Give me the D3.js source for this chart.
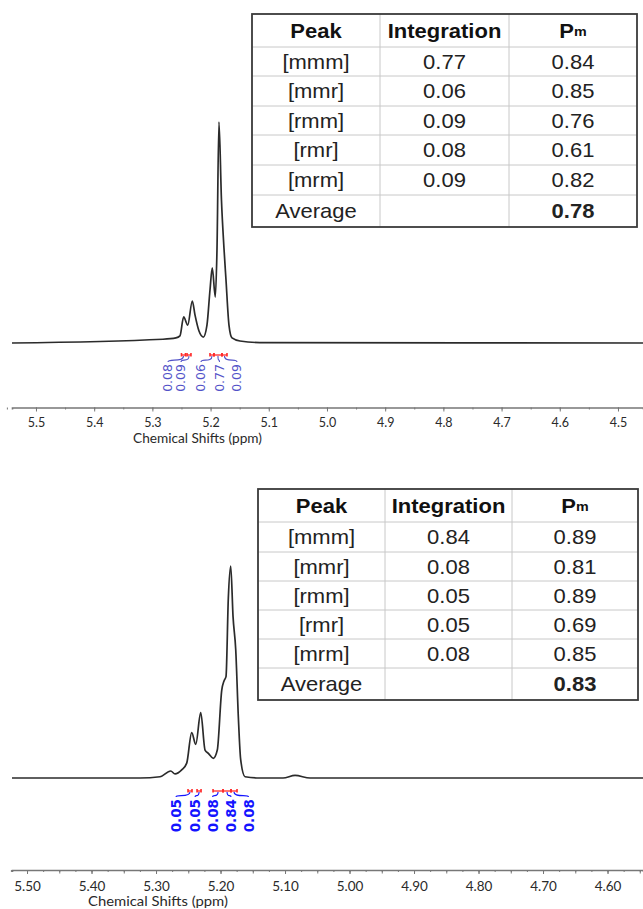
<!DOCTYPE html>
<html><head><meta charset="utf-8">
<script src="https://cdn.jsdelivr.net/npm/d3@7"></script>
<style>html,body{margin:0;padding:0;background:#fff;}svg{display:block;}</style>
</head><body>
<svg id="c" width="643" height="909"></svg>
<script>
// ---------- DATA ----------
// Top spectrum (ppm, relative intensity)
const topPpm = [5.5412, 5.2818, 5.2595, 5.2526, 5.2462, 5.2393, 5.2314, 5.2268, 5.2199, 5.2125, 5.2062, 5.2010, 5.1971, 5.1919, 5.1890, 5.1856, 5.1813, 5.1770, 5.1735, 5.1684, 5.1632, 5.1495, 5.1151, 4.4570];
const topInt = [0, 1.7, 2.3, 3.2, 11.8, 8.1, 19.0, 12.7, 5.4, 2.7, 8.1, 24.0, 34.0, 20.8, 42.0, 100, 64.7, 43.0, 28.5, 8.1, 2.3, 0.9, 0.2, 0];
// Bottom spectrum
const botPpm = [5.5233, 5.3248, 5.2938, 5.2772, 5.2705, 5.2602, 5.2524, 5.2447, 5.2384, 5.2307, 5.2240, 5.2189, 5.2112, 5.2050, 5.1981, 5.1946, 5.1915, 5.1879, 5.1842, 5.1806, 5.1764, 5.1724, 5.1687, 5.1620, 5.1388, 5.1031, 5.0845, 5.0612, 4.5450];
const botInt = [0, 0, 0.6, 3.3, 1.9, 3.8, 7.0, 21.4, 15.9, 30.8, 13.2, 11.6, 9.3, 13.2, 41.5, 45.8, 47.8, 84.9, 100, 76.1, 60.4, 28.9, 8.5, 0.6, 0, 0, 1.2, 0, 0];

// Integrals (top)
const topIntegrals = ["0.08", "0.09", "0.06", "0.77", "0.09"];
const topLabelPpm = [5.2732, 5.2509, 5.2165, 5.1847, 5.1546];
const topRegFrom = [5.2500, 5.2405, 5.2010, 5.1942, 5.1804];
const topRegTo   = [5.2431, 5.2337, 5.1942, 5.1804, 5.1718];
// Integrals (bottom)
const botIntegrals = ["0.05", "0.05", "0.08", "0.84", "0.08"];
const botLabelPpm = [5.2690, 5.2395, 5.2124, 5.1837, 5.1566];
const botRegFrom = [5.2504, 5.2364, 5.2116, 5.1961, 5.1837];
const botRegTo   = [5.2442, 5.2302, 5.1961, 5.1837, 5.1744];

// Axis ticks
const topTickLabels = [5.5, 5.4, 5.3, 5.2, 5.1, 5.0, 4.9, 4.8, 4.7, 4.6, 4.5];
const botTickLabels = [5.5, 5.4, 5.3, 5.2, 5.1, 5.0, 4.9, 4.8, 4.7, 4.6];

// Tables
const tableHeader = ["Peak", "Integration", "Pm"];
const peakNames = ["[mmm]", "[mmr]", "[rmm]", "[rmr]", "[mrm]"];
const topIntegration = ["0.77", "0.06", "0.09", "0.08", "0.09"];
const topPm = ["0.84", "0.85", "0.76", "0.61", "0.82"];
const topAverage = "0.78";
const botIntegration = ["0.84", "0.08", "0.05", "0.05", "0.08"];
const botPm = ["0.89", "0.81", "0.89", "0.69", "0.85"];
const botAverage = "0.83";

// ---------- DRAW ----------
const svg = d3.select("#c");
const axisFont = "Lato, 'Liberation Sans', sans-serif";

function panel(o) {
  const x = d3.scaleLinear().domain(o.domain).range([12, 643]);
  const y = d3.scaleLinear().domain([0, 100]).range([o.base, o.top]);
  const g = svg.append("g");

  // spectrum
  const pts = o.ppm.map((p, i) => [p, o.ints[i]]);
  g.append("path").datum(pts)
    .attr("d", d3.line().x(d => x(d[0])).y(d => y(d[1])).curve(d3.curveMonotoneX))
    .attr("fill", "none").attr("stroke", "#2b2b2b").attr("stroke-width", 1.7)
    .attr("stroke-linejoin", "round");

  // axis: small ticks
  const minor = d3.range(Math.round(o.domain[1] / o.minorStep), Math.round(o.domain[0] / o.minorStep) + 1).map(k => +(k * o.minorStep).toFixed(3));
  const ax = g.append("g").attr("transform", `translate(0,${o.axisY})`);
  ax.call(d3.axisBottom(x).tickValues(minor).tickSize(o.minorLen).tickFormat(""))
    .call(s => s.select(".domain").attr("stroke", "#777").attr("stroke-width", 1.6))
    .call(s => s.selectAll(".tick line").attr("stroke", "#777"));
  if (o.midStep) {
    const mids = d3.range(Math.ceil(o.domain[1] / o.midStep), Math.floor(o.domain[0] / o.midStep) + 1).map(k => +(k * o.midStep).toFixed(3));
    g.append("g").attr("transform", `translate(0,${o.axisY})`)
      .call(d3.axisBottom(x).tickValues(mids).tickSize(3.5).tickFormat(""))
      .call(s => s.select(".domain").remove())
      .call(s => s.selectAll(".tick line").attr("stroke", "#777"));
  }
  const maj = g.append("g").attr("transform", `translate(0,${o.axisY})`);
  maj.call(d3.axisBottom(x).tickValues(o.ticks).tickSize(o.majorLen).tickPadding(o.pad).tickFormat(d3.format(o.fmt)))
    .call(s => s.select(".domain").remove())
    .call(s => s.selectAll(".tick line").attr("stroke", "#777"))
    .call(s => s.selectAll(".tick text").attr("fill", "#2a2a2a").attr("font-family", axisFont).attr("font-size", o.tickFont));
  g.append("text").attr("x", o.titleX).attr("y", o.titleY)
    .attr("font-family", axisFont).attr("font-size", o.titleFont).attr("fill", "#2a2a2a")
    .attr("textLength", o.titleLen).attr("lengthAdjust", "spacingAndGlyphs")
    .text("Chemical Shifts (ppm)");

  // integrals
  o.labels.forEach((t, i) => {
    const xl = x(o.labelPpm[i]);
    const x0 = x(o.regFrom[i]), x1 = x(o.regTo[i]);
    const xc = (x0 + x1) / 2;
    g.append("path")
      .attr("d", `M${xl},${o.labelTop - 2} C${xl},${o.redY + 3} ${xc},${o.labelTop - 1} ${xc},${o.redY + 1}`)
      .attr("fill", "none").attr("stroke", o.labelColor).attr("stroke-width", 1.1);
    g.append("line").attr("x1", x0).attr("x2", x1).attr("y1", o.redY).attr("y2", o.redY)
      .attr("stroke", "#ff2a2a").attr("stroke-width", 1.3);
    [x0, x1].forEach(xx => g.append("line").attr("x1", xx).attr("x2", xx)
      .attr("y1", o.redY - 2).attr("y2", o.redY + 1.5).attr("stroke", "#ff2a2a").attr("stroke-width", 1.6));
    g.append("text")
      .attr("transform", `translate(${xl},${o.labelTop}) rotate(-90)`)
      .attr("text-anchor", "end").attr("dominant-baseline", "central")
      .attr("font-family", "'DejaVu Sans', sans-serif").attr("font-size", o.labelSize)
      .attr("font-weight", o.labelWeight).attr("fill", o.labelColor)
      .text(t);
  });
}

panel({
  domain: [5.5412, 4.4570], base: 343, top: 122, ppm: topPpm, ints: topInt,
  axisY: 407.5, ticks: topTickLabels, fmt: ".1f", minorStep: 0.05, minorLen: 2, majorLen: 4, pad: 7,
  tickFont: 12.5, titleFont: 12.5, titleX: 133, titleY: 443, titleLen: 129,
  labels: topIntegrals, labelPpm: topLabelPpm, regFrom: topRegFrom, regTo: topRegTo,
  labelTop: 364, redY: 355, labelColor: "#5252c8", labelSize: 12.5, labelWeight: "normal"
});
panel({
  domain: [5.5233, 4.5450], base: 778, top: 566, ppm: botPpm, ints: botInt,
  axisY: 870, ticks: botTickLabels, fmt: ".2f", minorStep: 0.025, midStep: 0.05, minorLen: 2, majorLen: 4, pad: 7,
  tickFont: 13.5, titleFont: 13.5, titleX: 88, titleY: 906, titleLen: 140,
  labels: botIntegrals, labelPpm: botLabelPpm, regFrom: botRegFrom, regTo: botRegTo,
  labelTop: 799, redY: 791, labelColor: "#1414ff", labelSize: 13.5, labelWeight: "bold"
});

function table(o) {
  const g = svg.append("g");
  const xe = o.xEdges, ye = o.yEdges;
  for (let i = 1; i < ye.length - 1; i++)
    g.append("line").attr("x1", xe[0]).attr("x2", xe[xe.length - 1]).attr("y1", ye[i]).attr("y2", ye[i])
      .attr("stroke", "#c8c8c8").attr("stroke-width", 1);
  for (let j = 1; j < xe.length - 1; j++)
    g.append("line").attr("x1", xe[j]).attr("x2", xe[j]).attr("y1", ye[0]).attr("y2", ye[ye.length - 1])
      .attr("stroke", "#c8c8c8").attr("stroke-width", 1);
  g.append("rect").attr("x", xe[0]).attr("y", ye[0])
    .attr("width", xe[xe.length - 1] - xe[0]).attr("height", ye[ye.length - 1] - ye[0])
    .attr("fill", "none").attr("stroke", "#3a3a3a").attr("stroke-width", 1.8);
  const cx = j => (xe[j] + xe[j + 1]) / 2;
  const cy = i => (ye[i] + ye[i + 1]) / 2;
  const font = "'Liberation Sans', Arial, sans-serif";
  o.header.forEach((h, j) => {
    const t = g.append("text")
      .attr("transform", `translate(${cx(j)},${cy(0) + 7.2}) scale(1.1,1)`)
      .attr("text-anchor", "middle").attr("font-family", font).attr("font-weight", "bold")
      .attr("font-size", 20).attr("fill", "#111");
    if (h === "Pm") {
      t.append("tspan").text("P");
      t.append("tspan").attr("font-size", 13).attr("dy", -2).text("m");
    } else t.text(h);
  });
  const rows = o.names.map((n, i) => [n, o.integ[i], o.pm[i]]);
  rows.push(["Average", "", o.avg]);
  rows.forEach((r, i) => {
    r.forEach((v, j) => {
      g.append("text")
        .attr("transform", `translate(${cx(j)},${cy(i + 1) + 7.2}) scale(1.1,1)`)
        .attr("text-anchor", "middle").attr("font-family", font)
        .attr("font-size", 20).attr("fill", "#222")
        .attr("font-weight", (i === rows.length - 1 && j === 2) ? "bold" : "normal")
        .text(v);
    });
  });
}

table({ xEdges: [252, 380, 509, 637], yEdges: [14, 47, 76, 106, 135, 165, 195, 227],
  header: tableHeader, names: peakNames, integ: topIntegration, pm: topPm, avg: topAverage });
table({ xEdges: [258, 385, 512, 638], yEdges: [489, 522, 552, 581, 610, 639, 668, 700],
  header: tableHeader, names: peakNames, integ: botIntegration, pm: botPm, avg: botAverage });
</script>
</body></html>
